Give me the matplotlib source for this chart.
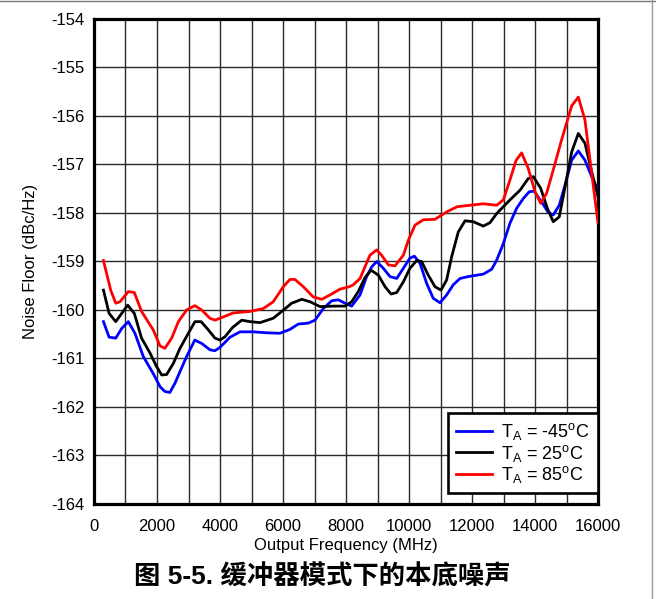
import matplotlib
matplotlib.use('Agg')
import matplotlib.pyplot as plt
from matplotlib.lines import Line2D

plt.rcParams['font.family'] = ['Liberation Sans', 'Noto Sans CJK SC', 'DejaVu Sans']
plt.rcParams['mathtext.fontset'] = 'custom'
plt.rcParams['mathtext.rm'] = 'Liberation Sans'
plt.rcParams['axes.unicode_minus'] = False

# частоты (МГц) и шумовой пол (dBc/Hz) для трёх температур
f_m45 = [300, 480, 690, 880, 1090, 1300, 1565, 1880, 2095, 2250, 2410, 2570, 2730,
         2940, 3200, 3420, 3680, 3840, 4000, 4320, 4635, 5060, 5480, 5900, 6220,
         6485, 6805, 7015, 7280, 7545, 7755, 7970, 8180, 8445, 8655, 8815, 8975,
         9185, 9395, 9610, 9820, 10030, 10170, 10350, 10560, 10770, 10985, 11195,
         11405, 11620, 11885, 12360, 12625, 12785, 12995, 13205, 13420, 13630,
         13820, 13970, 14210, 14420, 14580, 14770, 14955, 15165, 15375, 15585,
         15800, 16000]
nf_m45 = [-160.24, -160.56, -160.58, -160.38, -160.24, -160.48, -160.96, -161.31,
          -161.58, -161.68, -161.70, -161.51, -161.27, -160.96, -160.62, -160.69,
          -160.82, -160.84, -160.77, -160.56, -160.45, -160.45, -160.47, -160.48,
          -160.40, -160.29, -160.27, -160.21, -159.97, -159.81, -159.79, -159.86,
          -159.92, -159.69, -159.31, -159.11, -159.00, -159.14, -159.31, -159.35,
          -159.14, -158.93, -158.89, -159.04, -159.45, -159.76, -159.85, -159.69,
          -159.48, -159.35, -159.31, -159.26, -159.16, -158.97, -158.63, -158.21,
          -157.90, -157.70, -157.56, -157.55, -157.77, -157.99, -158.04, -157.84,
          -157.42, -156.91, -156.72, -156.91, -157.25, -157.53]

f_25 = [300, 480, 690, 880, 1070, 1280, 1510, 1780, 1990, 2150, 2305, 2520, 2730,
        2995, 3205, 3400, 3630, 3840, 4000, 4160, 4400, 4690, 4950, 5270, 5690,
        5960, 6275, 6595, 6860, 7175, 7600, 7970, 8180, 8390, 8605, 8795, 9025,
        9240, 9430, 9610, 9820, 10030, 10245, 10400, 10610, 10825, 11015, 11195,
        11355, 11565, 11780, 12040, 12360, 12570, 12785, 13205, 13525, 13785,
        13945, 14180, 14390, 14580, 14770, 14955, 15165, 15375, 15585, 15800, 16000]
nf_25 = [-159.59, -160.07, -160.24, -160.07, -159.90, -160.07, -160.58, -160.89,
         -161.17, -161.34, -161.33, -161.10, -160.79, -160.48, -160.24, -160.24,
         -160.41, -160.58, -160.62, -160.55, -160.36, -160.21, -160.24, -160.26,
         -160.17, -160.03, -159.86, -159.78, -159.83, -159.93, -159.92, -159.92,
         -159.83, -159.62, -159.33, -159.18, -159.28, -159.52, -159.67, -159.64,
         -159.42, -159.14, -158.98, -159.00, -159.28, -159.52, -159.59, -159.38,
         -158.90, -158.39, -158.16, -158.18, -158.27, -158.20, -158.01, -157.73,
         -157.53, -157.29, -157.25, -157.49, -157.90, -158.18, -158.08, -157.46,
         -156.74, -156.36, -156.56, -157.15, -157.66]

f_85 = [300, 530, 690, 825, 1090, 1280, 1510, 1880, 2095, 2250, 2465, 2680, 2940,
        3200, 3420, 3680, 3840, 4000, 4420, 4950, 5375, 5690, 6010, 6220, 6380,
        6645, 6960, 7230, 7490, 7810, 8105, 8230, 8445, 8760, 8975, 9130, 9345,
        9555, 9820, 9980, 10190, 10455, 10825, 11215, 11530, 12360, 12785, 12995,
        13205, 13395, 13575, 13785, 14000, 14180, 14370, 14580, 14845, 15165,
        15375, 15585, 15800, 16000]
nf_85 = [-158.98, -159.59, -159.86, -159.83, -159.62, -159.64, -160.03, -160.41,
         -160.74, -160.79, -160.58, -160.24, -160.00, -159.91, -160.00, -160.17,
         -160.21, -160.17, -160.06, -160.03, -159.97, -159.83, -159.52, -159.37,
         -159.37, -159.52, -159.73, -159.78, -159.69, -159.57, -159.52, -159.48,
         -159.35, -158.87, -158.76, -158.87, -159.07, -159.09, -158.87, -158.56,
         -158.25, -158.14, -158.13, -157.97, -157.87, -157.81, -157.84, -157.73,
         -157.32, -156.92, -156.76, -157.08, -157.56, -157.80, -157.59, -157.11,
         -156.49, -155.79, -155.61, -156.08, -157.18, -158.20]

labels = [r'T$_\mathregular{A}$ = -45$^\mathregular{o}$C',
          r'T$_\mathregular{A}$ = 25$^\mathregular{o}$C',
          r'T$_\mathregular{A}$ = 85$^\mathregular{o}$C']
x_ticks = list(range(0, 16001, 2000))
y_ticks = list(range(-164, -153))

fig = plt.figure(figsize=(6.56, 5.99), dpi=100)
ax = fig.add_axes([94/656, 1 - 504/599, 504/656, 485/599])

ax.plot(f_m45, nf_m45, color='#0000ff', lw=2.0, label=labels[0], zorder=3)
ax.plot(f_25, nf_25, color='black', lw=2.0, label=labels[1], zorder=3)
ax.plot(f_85, nf_85, color='#ff0000', lw=2.0, label=labels[2], zorder=3)

ax.set_xlim(0, 16000)
ax.set_ylim(-164, -154)
ax.set_xticks(x_ticks)
ax.set_yticks(y_ticks)
ax.set_xticks(range(1000, 16000, 2000), minor=True)
ax.grid(True, which='both', color='#2a2a2a', lw=1.0)
ax.tick_params(which='both', length=0, labelsize=12)
ax.tick_params(axis='x', pad=11)
ax.tick_params(axis='y', pad=7)
for s in ax.spines.values():
    s.set_linewidth(2.3)

ax.set_xlabel('Output Frequency (MHz)', fontsize=12, labelpad=3)
ax.set_ylabel('Noise Floor (dBc/Hz)', fontsize=12, labelpad=9)

leg = ax.legend(loc='lower right', bbox_to_anchor=(1, 11/485), borderaxespad=0,
                fontsize=13, fancybox=False, framealpha=1, edgecolor='black',
                handlelength=2.0, handletextpad=0.5, labelspacing=0.02,
                borderpad=0.45)
leg.get_frame().set_linewidth(1.9)

fig.text(322/656, 1 - 577/599, '图 5-5. 缓冲器模式下的本底噪声',
         ha='center', va='center', fontsize=19, fontweight='bold')

# рамка страницы
fig.add_artist(Line2D([0, 1], [0.999, 0.999], color='#777777', lw=1))
fig.add_artist(Line2D([652/656, 652/656], [0, 1], color='#999999', lw=1))

fig.savefig('out.png', dpi=100)
